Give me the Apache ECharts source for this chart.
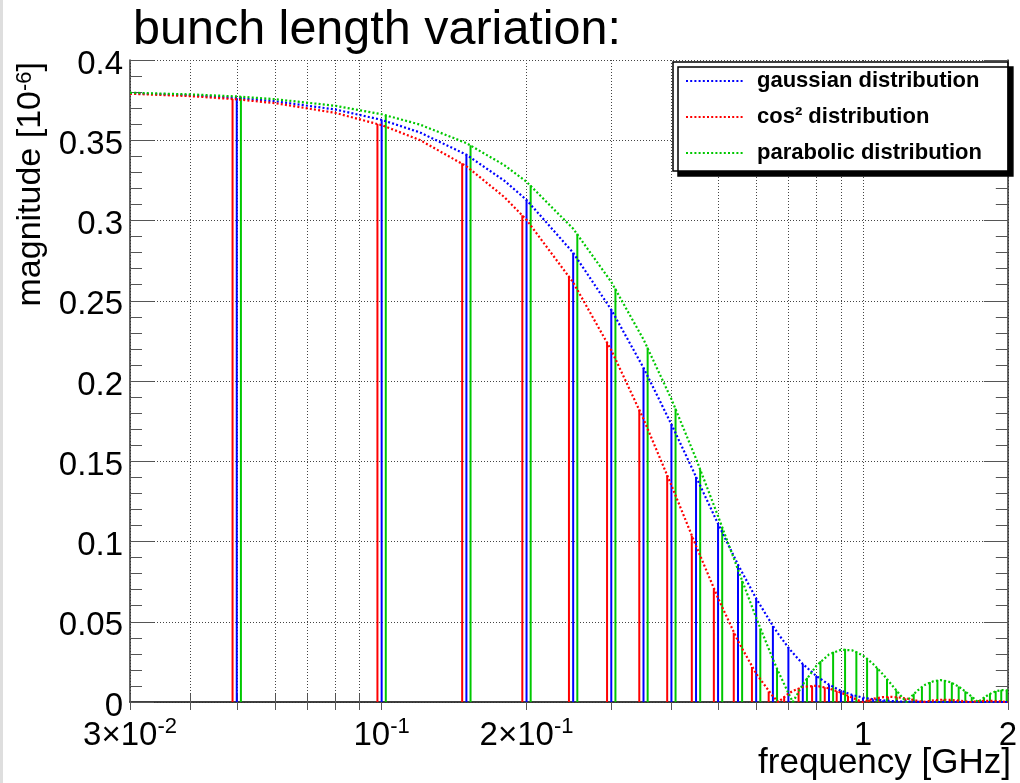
<!DOCTYPE html>
<html>
<head>
<meta charset="utf-8">
<script src="https://cdn.jsdelivr.net/npm/echarts@6.0.0/dist/echarts.min.js"></script>
<style>
  html, body { margin: 0; padding: 0; background: #ffffff; }
  #chart { width: 1020px; height: 783px; }
</style>
</head>
<body>
<div id="chart"></div>
<script>
// Frequency samples (GHz) for the three spectrum envelopes
const curveFreq = [0.03, 0.04, 0.05, 0.06, 0.08, 0.10, 0.12, 0.15, 0.18, 0.20,
  0.25, 0.30, 0.35, 0.40, 0.45, 0.50, 0.55, 0.60, 0.65, 0.667,
  0.70, 0.715, 0.75, 0.80, 0.85, 0.90, 0.95, 1.00, 1.05, 1.10,
  1.15, 1.20, 1.23, 1.25, 1.30, 1.333, 1.35, 1.40, 1.45, 1.50,
  1.55, 1.60, 1.65, 1.667, 1.70, 1.735, 1.75, 1.80, 1.85, 1.90,
  1.95, 2.00];

// Envelope magnitudes [1e-6]
const gaussCurve = [0.3793, 0.3780, 0.3763, 0.3743, 0.3692, 0.3627, 0.3549, 0.3410, 0.3247, 0.3128,
  0.2799, 0.2444, 0.2082, 0.1730, 0.1403, 0.1110, 0.0856, 0.0645, 0.0474, 0.0424,
  0.0339, 0.0306, 0.0237, 0.0162, 0.0108, 0.0070, 0.0044, 0.0027, 0.0017, 0.0010,
  0.0006, 0.0003, 0.0002, 0.0002, 0.0001, 0.0001, 0, 0, 0, 0,
  0, 0, 0, 0, 0, 0, 0, 0, 0, 0,
  0, 0];
const cos2Curve = [0.3790, 0.3775, 0.3755, 0.3731, 0.3671, 0.3594, 0.3502, 0.3338, 0.3145, 0.3004,
  0.2614, 0.2192, 0.1763, 0.1350, 0.0973, 0.0647, 0.0380, 0.0177, 0.0035, 0,
  0.0052, 0.0069, 0.0094, 0.0101, 0.0085, 0.0058, 0.0027, 0, 0.0020, 0.0030,
  0.0032, 0.0027, 0.0022, 0.0018, 0.0007, 0, 0.0003, 0.0010, 0.0014, 0.0014,
  0.0011, 0.0007, 0.0002, 0, 0.0003, 0.0005, 0.0006, 0.0008, 0.0007, 0.0005,
  0.0003, 0];
const paraCurve = [0.3796, 0.3786, 0.3773, 0.3756, 0.3715, 0.3662, 0.3598, 0.3482, 0.3344, 0.3241,
  0.2949, 0.2617, 0.2259, 0.1887, 0.1516, 0.1158, 0.0825, 0.0525, 0.0267, 0.0190,
  0.0055, 0, 0.0109, 0.0225, 0.0296, 0.0326, 0.0322, 0.0290, 0.0237, 0.0173,
  0.0104, 0.0037, 0, 0.0024, 0.0073, 0.0098, 0.0109, 0.0129, 0.0136, 0.0129,
  0.0111, 0.0085, 0.0054, 0.0043, 0.0022, 0, 0.0009, 0.0035, 0.0056, 0.0069,
  0.0074, 0.0072];

// Revolution harmonics (GHz) and the spectral line heights of each distribution
const harmonics = [0.05, 0.10, 0.15, 0.20, 0.25, 0.30, 0.35, 0.40, 0.45, 0.50,
  0.55, 0.60, 0.65, 0.70, 0.75, 0.80, 0.85, 0.90, 0.95, 1.00,
  1.05, 1.10, 1.15, 1.20, 1.25, 1.30, 1.35, 1.40, 1.45, 1.50,
  1.55, 1.60, 1.65, 1.70, 1.75, 1.80, 1.85, 1.90, 1.95, 2.00];
const gaussLines = [0.3763, 0.3627, 0.3410, 0.3128, 0.2799, 0.2444, 0.2082, 0.1730, 0.1403, 0.1110,
  0.0856, 0.0645, 0.0474, 0.0339, 0.0237, 0.0162, 0.0108, 0.0070, 0.0044, 0.0027,
  0.0017, 0.0010, 0.0006, 0.0003, 0.0002, 0.0001, 0.0001, 0, 0, 0,
  0, 0, 0, 0, 0, 0, 0, 0, 0, 0];
const cos2Lines = [0.3757, 0.3602, 0.3356, 0.3033, 0.2655, 0.2243, 0.1822, 0.1413, 0.1036, 0.0706,
  0.0432, 0.0218, 0.0065, 0.0034, 0.0087, 0.0102, 0.0092, 0.0068, 0.0038, 0.0009,
  0.0014, 0.0027, 0.0033, 0.0030, 0.0023, 0.0012, 0.0002, 0.0007, 0.0013, 0.0015,
  0.0013, 0.0010, 0.0005, 0.0000, 0.0004, 0.0008, 0.0008, 0.0007, 0.0005, 0.0002];
const paraLines = [0.3772, 0.3656, 0.3469, 0.3220, 0.2918, 0.2576, 0.2208, 0.1828, 0.1450, 0.1089,
  0.0755, 0.0458, 0.0206, 0.0003, 0.0151, 0.0255, 0.0313, 0.0331, 0.0315, 0.0273,
  0.0212, 0.0144, 0.0073, 0.0006, 0.0052, 0.0095, 0.0124, 0.0137, 0.0136, 0.0122,
  0.0097, 0.0067, 0.0033, 0.0001, 0.0029, 0.0052, 0.0069, 0.0076, 0.0075, 0.0068];

// Series names
const seriesNames = ['gaussian distribution', 'cos\u00b2 distribution', 'parabolic distribution'];

// Axis ticks and labels
const xGridValues = [0.04, 0.05, 0.06, 0.07, 0.08, 0.09, 0.1, 0.2, 0.3, 0.4, 0.5, 0.6, 0.7, 0.8, 0.9, 1];
const xLabelValues = [0.03, 0.1, 0.2, 1, 2];
const xLabelMantissas = ['3\u00d710', '10', '2\u00d710', '1', '2'];
const xLabelExponents = ['-2', '-1', '-1', '', ''];

const X_MIN = 0.03, X_MAX = 2;
const FONT = "'Liberation Sans', Arial, Helvetica, sans-serif";
const RED = '#ff0000', BLUE = '#0000ff', GREEN = '#00c800';

const chart = echarts.init(document.getElementById('chart'), null, { renderer: 'canvas' });

function envelope(name, values, color) {
  return {
    type: 'line', name: name,
    data: curveFreq.map((f, i) => [f, values[i]]),
    showSymbol: false, symbol: 'none', z: 4, silent: true,
    lineStyle: { color: color, width: 2.2, type: [2, 2.2], cap: 'butt' },
    itemStyle: { color: color }
  };
}

// Spectral lines: one vertical stem per harmonic, slightly shifted per distribution
function stems(values, shift, color) {
  return {
    type: 'custom', silent: true, z: 3,
    data: harmonics.map((f, i) => [f * shift, values[i]]).filter(d => d[0] <= X_MAX),
    encode: { x: 0, y: 1 },
    renderItem: function (params, api) {
      const top = api.coord([api.value(0), api.value(1)]);
      const base = api.coord([api.value(0), 0]);
      return {
        type: 'line',
        shape: { x1: top[0], y1: top[1], x2: base[0], y2: base[1] },
        style: { stroke: color, lineWidth: 2 }
      };
    }
  };
}

function xLabel(value) {
  const i = xLabelValues.findIndex(v => Math.abs(v - value) < v * 1e-6);
  if (i < 0) return '';
  return xLabelExponents[i] ? xLabelMantissas[i] + '{sup|' + xLabelExponents[i] + '}' : xLabelMantissas[i];
}

const gridLine = { show: true, lineStyle: { color: '#444', width: 1, type: [1, 2] } };
const frameLine = { show: true, lineStyle: { color: '#333', width: 1.5 } };

const option = {
  animation: false,
  backgroundColor: '#ffffff',
  title: [
    {
      text: 'bunch length variation:', left: 133, top: 6, padding: 0,
      textStyle: { fontFamily: FONT, fontSize: 48.5, fontWeight: 'normal', color: '#000' }
    },
    {
      text: 'frequency [GHz]', right: 9, top: 746, padding: 0,
      textStyle: { fontFamily: FONT, fontSize: 35, fontWeight: 'normal', color: '#000' }
    }
  ],
  legend: {
    orient: 'vertical', left: 673, top: 62,
    data: seriesNames,
    itemWidth: 58, itemHeight: 14, itemGap: 10,
    padding: [6, 26, 5, 12],
    backgroundColor: '#ffffff', borderColor: '#000', borderWidth: 1.5,
    shadowColor: '#000', shadowBlur: 0, shadowOffsetX: 5, shadowOffsetY: 5,
    selectedMode: false,
    itemStyle: { opacity: 0 },
    textStyle: { fontFamily: FONT, fontWeight: 'bold', fontSize: 22, color: '#000', lineHeight: 26, padding: [0, 0, 0, 8] }
  },
  grid: { left: 130, right: 8, top: 60, bottom: 81, containLabel: false },
  xAxis: [
    {
      type: 'log', logBase: 10, min: X_MIN, max: X_MAX, position: 'bottom',
      axisLine: frameLine,
      axisTick: { show: true, inside: true, length: 8, customValues: xGridValues.concat(xLabelValues),
        lineStyle: { color: '#555', width: 1 } },
      splitLine: gridLine,
      minorTick: { show: false }, minorSplitLine: { show: false },
      axisLabel: {
        show: true, customValues: xLabelValues, margin: 14, formatter: xLabel,
        fontFamily: FONT, fontSize: 33, color: '#000', lineHeight: 40,
        rich: { sup: { fontFamily: FONT, fontSize: 22, color: '#000', verticalAlign: 'top', lineHeight: 18 } }
      }
    },
    {
      type: 'log', logBase: 10, min: X_MIN, max: X_MAX, position: 'top',
      axisLine: frameLine,
      axisTick: { show: true, inside: true, length: 8, customValues: xGridValues.concat(xLabelValues),
        lineStyle: { color: '#555', width: 1 } },
      splitLine: { show: false },
      axisLabel: { show: false }
    }
  ],
  yAxis: [
    {
      type: 'value', min: 0, max: 0.4, interval: 0.05, position: 'left',
      axisLine: frameLine,
      axisTick: { show: true, inside: true, length: 24, lineStyle: { color: '#555', width: 1 } },
      minorTick: { show: true, splitNumber: 5, length: 12, lineStyle: { color: '#555', width: 1 } },
      splitLine: gridLine,
      axisLabel: { margin: 7, fontFamily: FONT, fontSize: 33, color: '#000', verticalAlign: 'top', lineHeight: 9 }
    },
    {
      type: 'value', min: 0, max: 0.4, interval: 0.05, position: 'right',
      axisLine: frameLine,
      axisTick: { show: true, inside: true, length: 24, lineStyle: { color: '#555', width: 1 } },
      minorTick: { show: true, splitNumber: 5, length: 12, lineStyle: { color: '#555', width: 1 } },
      splitLine: { show: false },
      axisLabel: { show: false }
    }
  ],
  graphic: [
    { type: 'rect', left: 0, top: 0, shape: { width: 3, height: 783 }, style: { fill: '#dedede' }, silent: true },
    {
      type: 'text', x: 31, y: 62, rotation: Math.PI / 2, silent: true,
      style: {
        text: 'magnitude [10{sup|-6}]', align: 'right', verticalAlign: 'middle',
        font: '34px ' + FONT, fill: '#000',
        rich: { sup: { fontSize: 22, fontFamily: FONT, fill: '#000', verticalAlign: 'top', lineHeight: 18 } }
      }
    }
  ],
  series: [
    stems(cos2Lines, 0.98, RED),
    stems(gaussLines, 1.0, BLUE),
    stems(paraLines, 1.02, GREEN),
    envelope(seriesNames[0], gaussCurve, BLUE),
    envelope(seriesNames[1], cos2Curve, RED),
    envelope(seriesNames[2], paraCurve, GREEN)
  ]
};

chart.setOption(option);
</script>
</body>
</html>
